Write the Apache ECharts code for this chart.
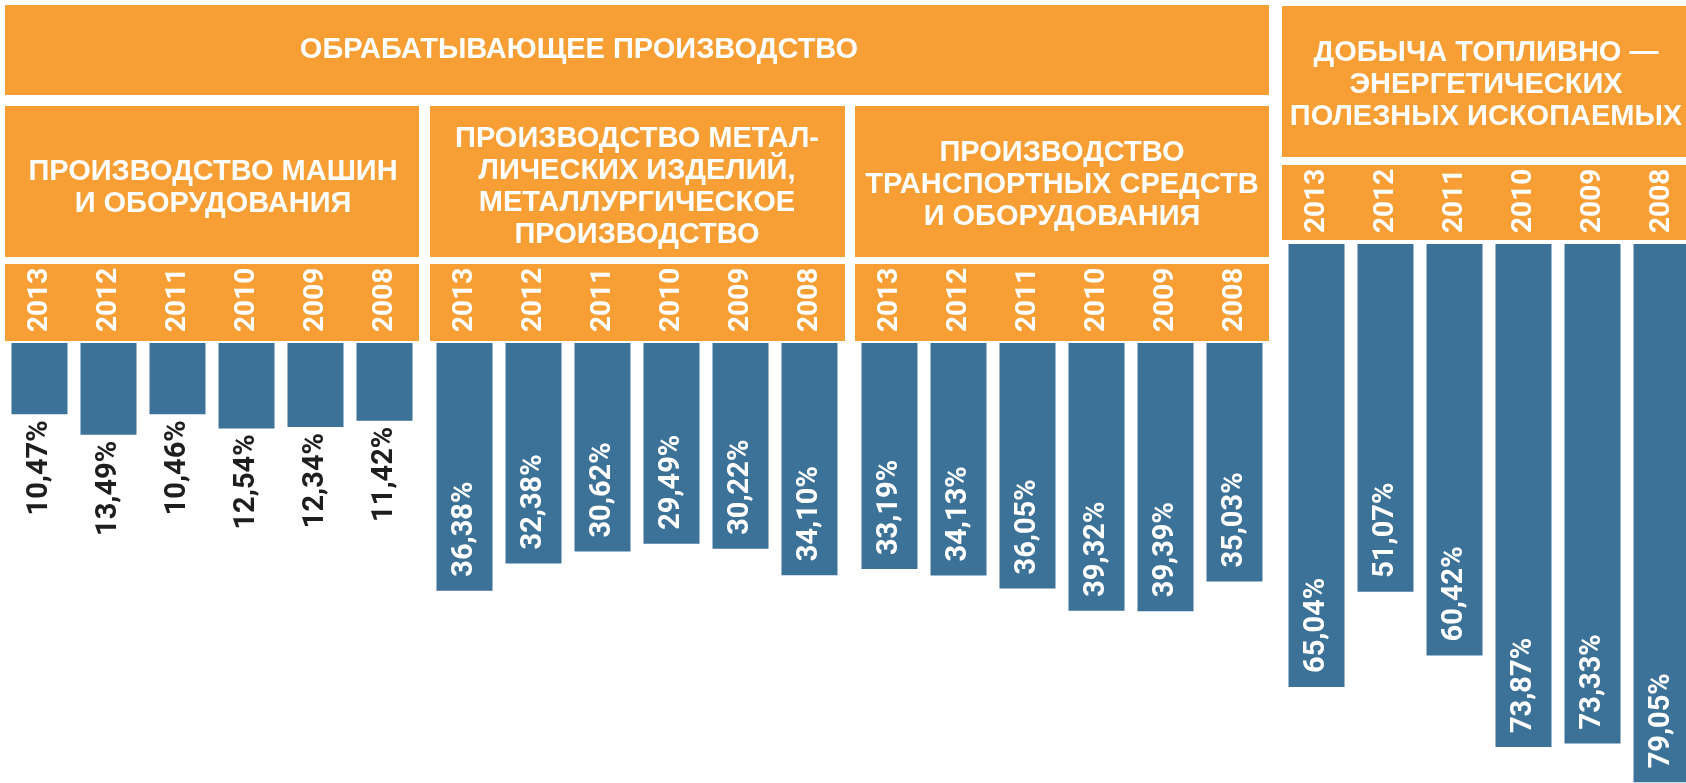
<!DOCTYPE html>
<html>
<head>
<meta charset="utf-8">
<script src="https://cdn.jsdelivr.net/npm/echarts@6/dist/echarts.min.js"></script>
<style>
  html, body { margin: 0; padding: 0; background: #fff; overflow: hidden; }
  /* чуть шире окна: правая колонка обрезана краем, как в оригинале */
  #chart { width: 1720px; height: 800px; }
</style>
</head>
<body>
<div id="chart"></div>
<script>
// годы и доли по отраслям, %
var years = ['2013', '2012', '2011', '2010', '2009', '2008'];
var machinery = [10.47, 13.49, 10.46, 12.54, 12.34, 11.42];
var metal = [36.38, 32.38, 30.62, 29.49, 30.22, 34.10];
var transport = [33.19, 34.13, 36.05, 39.32, 39.39, 35.03];
var fuel = [65.04, 51.07, 60.42, 73.87, 73.33, 79.05];

// заголовки
var mainTitle = 'ОБРАБАТЫВАЮЩЕЕ ПРОИЗВОДСТВО';
var sectionTitles = [
  'ПРОИЗВОДСТВО МАШИН\nИ ОБОРУДОВАНИЯ',
  'ПРОИЗВОДСТВО МЕТАЛ-\nЛИЧЕСКИХ ИЗДЕЛИЙ,\nМЕТАЛЛУРГИЧЕСКОЕ\nПРОИЗВОДСТВО',
  'ПРОИЗВОДСТВО\nТРАНСПОРТНЫХ СРЕДСТВ\nИ ОБОРУДОВАНИЯ'
];
var fuelTitle = 'ДОБЫЧА ТОПЛИВНО —\nЭНЕРГЕТИЧЕСКИХ\nПОЛЕЗНЫХ ИСКОПАЕМЫХ';

(function () {
  var chart = echarts.init(document.getElementById('chart'));

  var ORANGE = '#f79e34';
  var BLUE = '#3c7297';
  var NUM_FONT = 'Roboto, "Liberation Sans", sans-serif';
  var HEAD_FONT = 'bold 29px "Liberation Sans", Arial, sans-serif';

  // секции: левый край, верх сетки, предел шкалы
  var sections = [
    { left: 5, top: 343, max: 60, data: machinery, outside: true },
    { left: 430, top: 343, max: 60, data: metal },
    { left: 855, top: 343, max: 60, data: transport },
    { left: 1282, top: 244, max: 80, data: fuel }
  ];
  var SEC_W = 414;
  var PX_PER_PCT = 6.81;

  function fmt(v) {
    return v.toFixed(2).replace('.', ',') + '%';
  }

  var grids = [], xAxes = [], yAxes = [], series = [];
  sections.forEach(function (s, i) {
    grids.push({ left: s.left, top: s.top, width: SEC_W, height: s.max * PX_PER_PCT });
    xAxes.push({
      gridIndex: i,
      type: 'category',
      position: 'top',
      data: years,
      axisLine: { show: false },
      axisTick: { show: false },
      axisLabel: {
        interval: 0,
        rotate: 90,
        margin: 11,
        color: '#fff',
        fontFamily: NUM_FONT,
        fontWeight: 'bold',
        fontSize: 28
      }
    });
    yAxes.push({ gridIndex: i, type: 'value', inverse: true, min: 0, max: s.max, show: false });

    var label = s.outside ? {
      show: true,
      position: 'bottom',
      distance: 6,
      rotate: 90,
      align: 'right',
      verticalAlign: 'middle',
      color: '#1e1e1e'
    } : {
      show: true,
      position: 'insideBottom',
      distance: 14,
      rotate: 90,
      align: 'left',
      verticalAlign: 'middle',
      color: '#fff'
    };
    label.fontFamily = NUM_FONT;
    label.fontWeight = 'bold';
    label.fontSize = 29;
    label.formatter = function (p) { return fmt(p.value); };

    series.push({
      type: 'bar',
      xAxisIndex: i,
      yAxisIndex: i,
      barWidth: 56,
      itemStyle: { color: BLUE },
      label: label,
      data: s.data
    });
  });

  // оранжевые плашки
  function box(x, y, w, h) {
    return { type: 'rect', z: -1, shape: { x: x, y: y, width: w, height: h }, style: { fill: ORANGE } };
  }
  function head(txt, x, y) {
    return {
      type: 'text', z: 10, x: x, y: y,
      style: { text: txt, fill: '#fff', font: HEAD_FONT, lineHeight: 32, align: 'center', verticalAlign: 'middle' }
    };
  }

  var graphics = [
    box(5, 5, 1264, 90),
    box(5, 106, 414, 151), box(430, 106, 415, 151), box(855, 106, 414, 151),
    box(5, 264, 414, 77), box(430, 264, 415, 77), box(855, 264, 414, 77),
    box(1282, 6, 414, 151), box(1282, 165, 414, 75),
    head(mainTitle, 579, 50),
    head(sectionTitles[0], 213, 188),
    head(sectionTitles[1], 637, 187),
    head(sectionTitles[2], 1062, 185),
    head(fuelTitle, 1486, 85)
  ];

  chart.setOption({
    animation: false,
    backgroundColor: '#fff',
    grid: grids,
    xAxis: xAxes,
    yAxis: yAxes,
    series: series,
    graphic: graphics
  });
})();
</script>
</body>
</html>
